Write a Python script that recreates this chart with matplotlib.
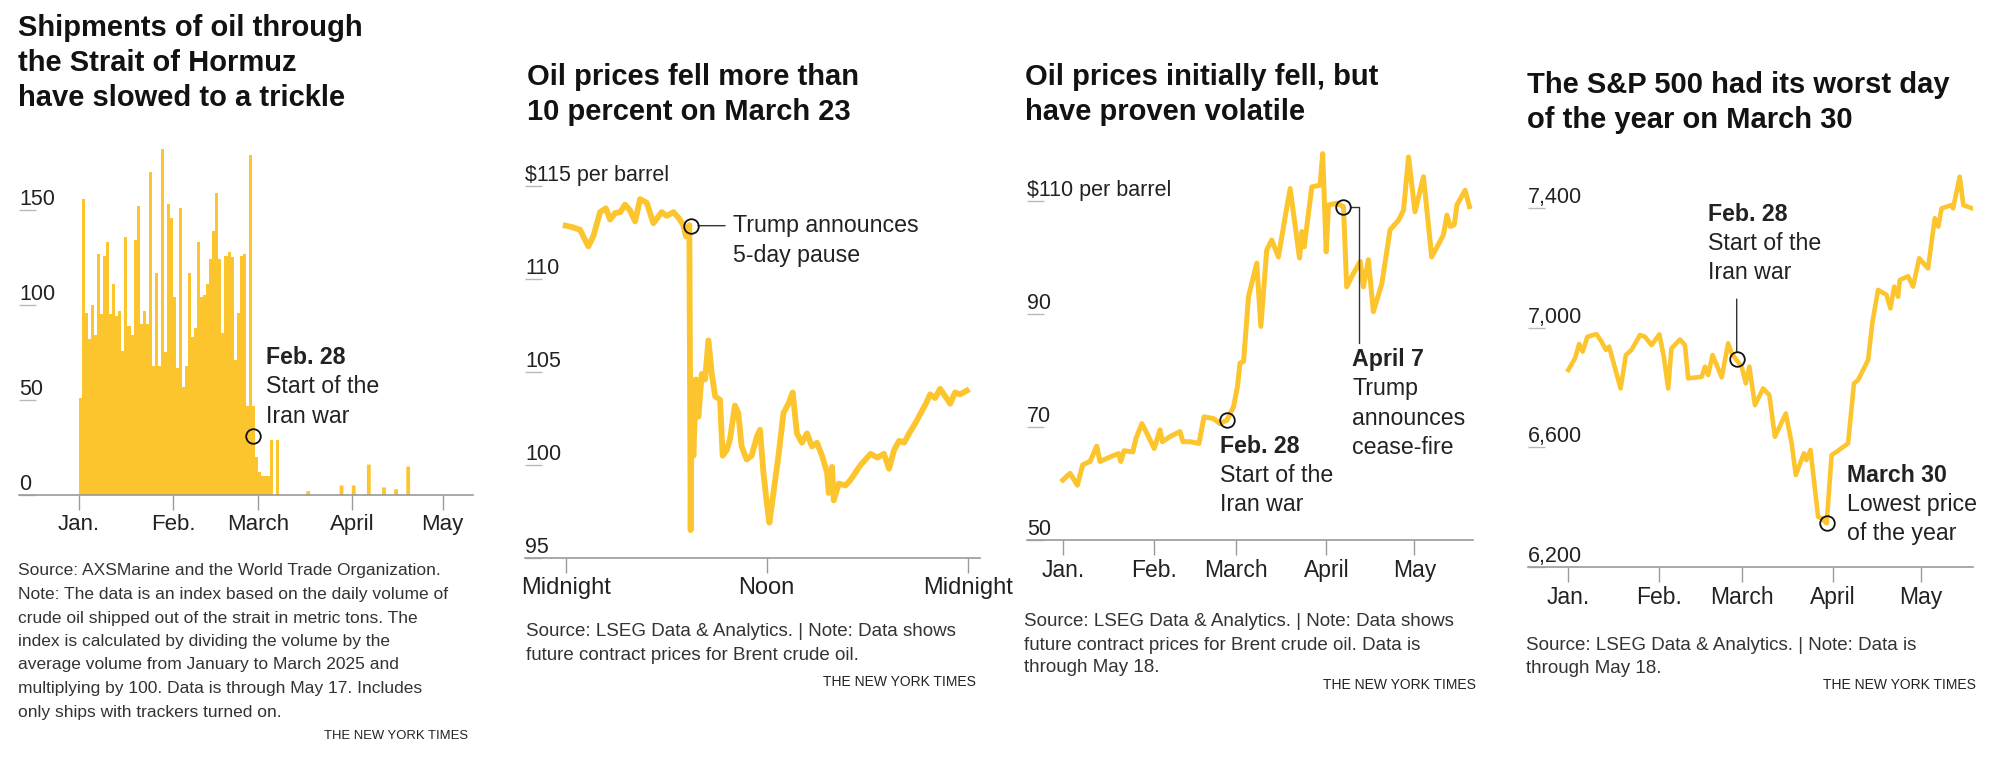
import matplotlib.pyplot as plt

plt.rcParams['font.family'] = ['Liberation Sans', 'DejaVu Sans']

YELLOW = '#FCC42D'
AXIS_GRAY = '#9a9a9a'
TICK_GRAY = '#b8b8b8'
TEXT = '#222222'
W, H = 2000, 759

# ---------------- data ----------------
month_days = [0, 31, 59, 90, 120]
month_labels = ['Jan.', 'Feb.', 'March', 'April', 'May']

# 1) Hormuz shipments index, one value per day from Jan. 1
hormuz_index = [51, 156, 96, 82, 100, 84, 127, 95, 126, 133, 95, 111, 94, 97, 76,
                136, 89, 84, 134, 152, 90, 97, 90, 170, 68, 117, 68, 182, 75, 153,
                146, 104, 67, 151, 57, 68, 117, 83, 88, 133, 104, 105, 111, 124, 139,
                159, 124, 85, 126, 128, 125, 71, 96, 126, 127, 47, 179, 47, 20, 12,
                10, 10, 10, 29, 0, 29]
# sparse shipments after mid-March
late_days = [75, 86, 90, 95, 100, 104, 108]
late_index = [2, 5, 5, 16, 4, 3, 15]

# 2) Brent intraday on March 23 (hours after midnight)
pause_hours = [0.0, 0.36, 0.86, 1.05, 1.35, 1.65, 2.05, 2.4, 2.65, 2.95, 3.25, 3.54,
               3.84, 4.14, 4.44, 4.84, 5.23, 5.73, 6.03, 6.43, 6.73, 7.02, 7.18, 7.38,
               7.46, 7.52, 7.62, 7.78, 7.92, 8.12, 8.32, 8.52, 8.72, 8.92, 9.21, 9.37,
               9.61, 9.81, 10.1, 10.3, 10.5, 10.8, 11.1, 11.4, 11.6, 11.8, 12.0, 12.16,
               12.4, 12.7, 13.0, 13.3, 13.55, 13.8, 14.1, 14.4, 14.7, 15.0, 15.3, 15.6,
               15.7, 15.9, 16.0, 16.3, 16.7, 17.0, 17.3, 17.6, 17.9, 18.2, 18.6, 19.0,
               19.3, 19.6, 19.9, 20.2, 20.5, 20.9, 21.2, 21.5, 21.75, 22.05, 22.35,
               22.65, 22.95, 23.24, 23.54, 23.94]
pause_price = [112.87, 112.8, 112.65, 112.3, 111.76, 112.3, 113.6, 113.8, 113.2, 113.55,
               113.6, 114.0, 113.7, 113.1, 114.3, 114.1, 113.0, 113.6, 113.4, 113.6,
               113.3, 112.9, 112.3, 112.9, 96.5, 104.6, 100.5, 104.6, 102.6, 104.9,
               104.6, 106.7, 104.9, 103.7, 103.5, 100.5, 100.8, 101.4, 103.2, 102.8,
               101.0, 100.3, 100.5, 101.5, 101.9, 99.6, 98.0, 96.9, 98.5, 100.5, 102.8,
               103.3, 103.9, 101.7, 101.2, 101.7, 101.0, 101.2, 100.5, 99.6, 98.5, 99.9,
               98.1, 99.0, 98.9, 99.2, 99.6, 100.0, 100.3, 100.6, 100.4, 100.6, 99.8,
               100.8, 101.3, 101.2, 101.7, 102.3, 102.8, 103.3, 103.8, 103.6, 104.1,
               103.7, 103.3, 103.9, 103.8, 104.0]

# 3) Brent futures, Jan. to May 18 (days since Jan. 1)
brent_days = [0, 2.5, 5, 6.8, 9.3, 11.6, 12.7, 16.2, 19, 19.8, 20.9, 23.9, 25, 27, 28.7,
              31.2, 33.2, 34, 36.6, 40, 41, 43.5, 46.5, 48.2, 51.4, 53.7, 56, 58.3, 59.6,
              60.5, 61.7, 63.4, 66.2, 67.6, 69.6, 71.3, 73.6, 75.9, 77.6, 80.8, 81.6,
              82.4, 85, 87.8, 88.7, 89.9, 90.7, 93.5, 95.8, 96.9, 98.6, 101.5, 102.6,
              104.3, 106, 108.9, 111.7, 114.6, 116.3, 118, 120.2, 123.1, 125.9, 129.9,
              131.1, 132.2, 133.6, 134.5, 137.3, 138.8]
brent_price = [60.6, 61.8, 59.7, 63.3, 63.9, 66.6, 63.9, 64.7, 65.3, 63.9, 65.8, 65.6,
               68.0, 70.6, 68.9, 66.2, 69.5, 67.4, 68.3, 69.2, 67.4, 67.4, 67.1, 71.8,
               71.5, 70.6, 71.2, 73.6, 77.1, 81.3, 81.6, 93.1, 99.0, 87.8, 101.3, 103.1,
               100.1, 107.2, 112.2, 99.9, 104.6, 101.9, 112.5, 112.8, 118.4, 101.0, 109.3,
               109.6, 109.0, 94.8, 96.6, 99.3, 94.8, 99.6, 90.4, 95.4, 104.9, 106.6, 108.4,
               117.8, 108.1, 114.3, 100.1, 104.0, 107.5, 105.5, 105.8, 109.3, 111.9, 109.0]

# 4) S&P 500 close
sp_days = [0, 2.3, 3.7, 4.9, 6.5, 9.6, 11.3, 12.8, 13.9, 17.8, 19.6, 21.5, 24.4, 26.1,
           28.3, 31, 32.5, 34, 35.1, 38, 39.7, 40.8, 45.4, 46.5, 47.6, 49.1, 52.2, 54.4,
           55.6, 57.3, 59, 60.4, 61.6, 63.5, 66.3, 68.4, 70.3, 74, 76, 77.4, 80.2, 81,
           82.4, 85, 86.2, 87.9, 89.6, 91.3, 95.2, 97.2, 98.6, 102, 103.5, 105.4, 108.3,
           109.6, 110.9, 112.2, 112.8, 115.6, 117.3, 119.4, 122.4, 124.7, 125.9, 127,
           130.4, 130.9, 133.2, 134.4, 137.5]
sp_close = [6859, 6898, 6946, 6920, 6970, 6979, 6954, 6926, 6937, 6797, 6909, 6926, 6976,
            6970, 6942, 6978, 6903, 6797, 6931, 6961, 6942, 6831, 6836, 6870, 6842, 6909,
            6834, 6948, 6914, 6892, 6870, 6814, 6870, 6741, 6797, 6775, 6635, 6713, 6613,
            6507, 6580, 6557, 6591, 6367, 6362, 6345, 6574, 6585, 6613, 6814, 6825, 6892,
            7020, 7127, 7110, 7065, 7138, 7104, 7160, 7173, 7138, 7233, 7199, 7367, 7339,
            7400, 7411, 7400, 7506, 7411, 7400]

# annotation anchors (x, y in data units)
ann_hormuz = (57.5, 31)
ann_pause = (7.48, 112.87)
ann_brent_war = (56, 71.3)
ann_brent_cease = (95.8, 109.0)
ann_sp_war = (57.3, 6895)
ann_sp_low = (87.9, 6345)

fig = plt.figure(figsize=(W / 100, H / 100), dpi=100)


def px_axes(left, top, right, bottom):
    ax = fig.add_axes([left / W, 1 - bottom / H, (right - left) / W, (bottom - top) / H])
    ax.patch.set_visible(False)
    return ax


def style(ax, xticks, xlabels, yticks, ylabels, xsize=16.5):
    for s in ('top', 'right', 'left'):
        ax.spines[s].set_visible(False)
    ax.spines['bottom'].set_color(AXIS_GRAY)
    ax.spines['bottom'].set_linewidth(1.2)
    ax.set_xticks(xticks)
    ax.set_xticklabels(xlabels)
    ax.tick_params(axis='x', direction='out', length=11, width=1, color=AXIS_GRAY,
                   pad=3, labelsize=xsize, labelcolor=TEXT)
    ax.set_yticks(yticks)
    ax.set_yticklabels(ylabels, ha='left', va='bottom')
    ax.tick_params(axis='y', direction='in', length=12.5, width=1, color=TICK_GRAY,
                   pad=0, labelsize=15.5, labelcolor=TEXT)


def circle(ax, xy):
    ax.plot([xy[0]], [xy[1]], marker='o', ms=10.5, mfc='none', mec='#111111',
            mew=1.3, zorder=6, clip_on=False)


def note(ax, xy, lines, dx, dy, step=29.5, bold_first=True):
    # dx, dy: pixel offset of the first line centre (dy positive = down)
    for i, line in enumerate(lines):
        ax.annotate(line, xy=xy, xytext=(dx, -(dy + i * step)), textcoords='offset pixels',
                    ha='left', va='center', fontsize=16.7, color=TEXT,
                    fontweight='bold' if (bold_first and i == 0) else 'normal')


def ftext(x, y, s, **kw):
    fig.text(x / W, 1 - y / H, s, va='center', **kw)


# ---------- panel 1 ----------
ax1 = px_axes(19, 140, 473, 495)
# daily bars drawn as one stepped area so neighbouring days do not leave seams
edges = list(range(len(hormuz_index) + 1))
ax1.fill_between(edges, hormuz_index + hormuz_index[-1:], step='post', color=YELLOW, lw=0)
ax1.bar(late_days, late_index, width=1.25, align='edge', color=YELLOW, lw=0, snap=False)
ax1.set_xlim(-19.8, 130)
ax1.set_ylim(0, 186.8)
style(ax1, month_days, month_labels, [0, 50, 100, 150], ['0', '50', '100', '150'], xsize=16)
circle(ax1, ann_hormuz)
note(ax1, ann_hormuz, ['Feb. 28', 'Start of the', 'Iran war'], 13, -79)

# ---------- panel 2 ----------
ax2 = px_axes(525, 150, 980, 558)
ax2.plot(pause_hours, pause_price, color=YELLOW, lw=4.2, solid_joinstyle='round')
ax2.set_xlim(-2.43, 24.73)
ax2.set_ylim(95, 116.94)
style(ax2, [0, 12, 24], ['Midnight', 'Noon', 'Midnight'],
      [95, 100, 105, 110, 115], ['95', '100', '105', '110', '$115 per barrel'], xsize=17)
circle(ax2, ann_pause)
ax2.annotate('', xy=ann_pause, xytext=(34, 0), textcoords='offset pixels',
             arrowprops=dict(arrowstyle='-', color='#333333', lw=1, shrinkA=0, shrinkB=5))
note(ax2, ann_pause, ['Trump announces', '5-day pause'], 42, 0, step=30, bold_first=False)

# ---------- panel 3 ----------
ax3 = px_axes(1027, 140, 1473, 540)
ax3.plot(brent_days, brent_price, color=YELLOW, lw=3.6, solid_joinstyle='round')
ax3.set_xlim(-12.2, 140)
ax3.set_ylim(50, 120.8)
style(ax3, month_days, month_labels, [50, 70, 90, 110], ['50', '70', '90', '$110 per barrel'])
circle(ax3, ann_brent_war)
note(ax3, ann_brent_war, ['Feb. 28', 'Start of the', 'Iran war'], -7, 27, step=29)
circle(ax3, ann_brent_cease)
ax3.annotate('', xy=ann_brent_cease, xytext=(16, -136), textcoords='offset pixels',
             arrowprops=dict(arrowstyle='-', color='#333333', lw=1, shrinkA=0, shrinkB=5,
                             connectionstyle='angle,angleA=90,angleB=0,rad=0'))
note(ax3, ann_brent_cease, ['April 7', 'Trump', 'announces', 'cease-fire'], 9, 153, step=29.3)

# ---------- panel 4 ----------
ax4 = px_axes(1528, 140, 1973, 566.7)
ax4.plot(sp_days, sp_close, color=YELLOW, lw=3.3, solid_joinstyle='round')
ax4.set_xlim(-13.7, 137.7)
ax4.set_ylim(6200, 7629)
style(ax4, month_days, month_labels, [6200, 6600, 7000, 7400],
      ['6,200', '6,600', '7,000', '7,400'])
circle(ax4, ann_sp_war)
ax4.annotate('', xy=ann_sp_war, xytext=(0, 60), textcoords='offset pixels',
             arrowprops=dict(arrowstyle='-', color='#333333', lw=1, shrinkA=0, shrinkB=5))
note(ax4, ann_sp_war, ['Feb. 28', 'Start of the', 'Iran war'], -29, -145, step=29.4)
circle(ax4, ann_sp_low)
note(ax4, ann_sp_low, ['March 30', 'Lowest price', 'of the year'], 20, -48, step=29.2)

# ---------- titles ----------
tkw = dict(fontsize=21, fontweight='bold', color='#121212', ha='left')
for i, s in enumerate(['Shipments of oil through', 'the Strait of Hormuz', 'have slowed to a trickle']):
    ftext(18, 28 + i * 35, s, **tkw)
for i, s in enumerate(['Oil prices fell more than', '10 percent on March 23']):
    ftext(527, 77 + i * 35, s, **tkw)
for i, s in enumerate(['Oil prices initially fell, but', 'have proven volatile']):
    ftext(1025, 77 + i * 35, s, **tkw)
for i, s in enumerate(['The S&P 500 had its worst day', 'of the year on March 30']):
    ftext(1527, 85 + i * 35, s, **tkw)

# ---------- sources ----------
src1 = ['Source: AXSMarine and the World Trade Organization.',
        'Note: The data is an index based on the daily volume of',
        'crude oil shipped out of the strait in metric tons. The',
        'index is calculated by dividing the volume by the',
        'average volume from January to March 2025 and',
        'multiplying by 100. Data is through May 17. Includes',
        'only ships with trackers turned on.']
for i, s in enumerate(src1):
    ftext(18, 571 + i * 23.5, s, fontsize=12.5, color='#333333', ha='left')
skw = dict(fontsize=13.5, color='#333333', ha='left')
src2 = ['Source: LSEG Data & Analytics. | Note: Data shows',
        'future contract prices for Brent crude oil.']
for i, s in enumerate(src2):
    ftext(526, 632 + i * 23.5, s, **skw)
src3 = ['Source: LSEG Data & Analytics. | Note: Data shows',
        'future contract prices for Brent crude oil. Data is',
        'through May 18.']
for i, s in enumerate(src3):
    ftext(1024, 622 + i * 23, s, **skw)
src4 = ['Source: LSEG Data & Analytics. | Note: Data is', 'through May 18.']
for i, s in enumerate(src4):
    ftext(1526, 645.7 + i * 23, s, **skw)

ftext(468, 736, 'THE NEW YORK TIMES', fontsize=9.4, color='#222222', ha='right')
nkw = dict(fontsize=10, color='#222222', ha='right')
ftext(976, 682, 'THE NEW YORK TIMES', **nkw)
ftext(1476, 685, 'THE NEW YORK TIMES', **nkw)
ftext(1976, 685, 'THE NEW YORK TIMES', **nkw)

fig.savefig('out.png', dpi=100)
